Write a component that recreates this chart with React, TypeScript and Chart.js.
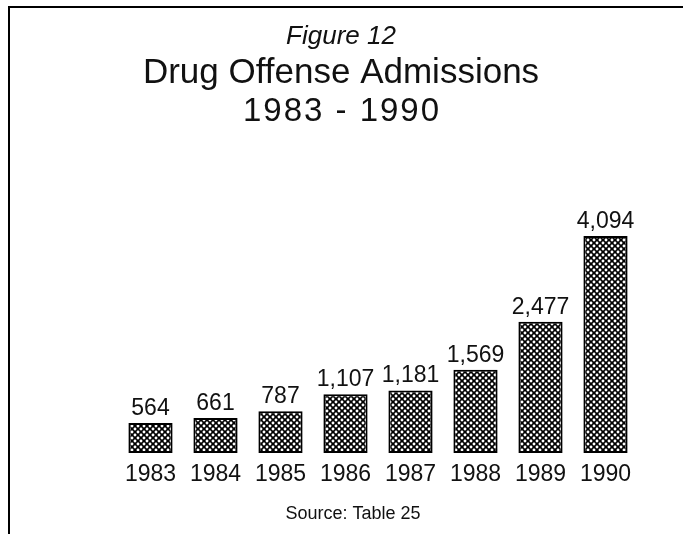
import React, { useEffect, useRef } from "react";
import { Chart, registerables } from "chart.js";

Chart.register(...registerables);

const years = ["1983", "1984", "1985", "1986", "1987", "1988", "1989", "1990"];
const admissions = [564, 661, 787, 1107, 1181, 1569, 2477, 4094];
const valueLabels = ["564", "661", "787", "1,107", "1,181", "1,569", "2,477", "4,094"];
const figureLabel = "Figure 12";
const titleText = "Drug Offense Admissions";
const subtitleText = "1983 - 1990";
const sourceText = "Source: Table 25";

const FONT = "'Liberation Sans', Arial, Helvetica, sans-serif";

function makePattern(): CanvasPattern | string {
  const c = document.createElement("canvas");
  c.width = 6;
  c.height = 6;
  const g = c.getContext("2d");
  if (!g) return "#222";
  g.fillStyle = "#000";
  g.fillRect(0, 0, 6, 6);
  g.fillStyle = "#fff";
  const pts = [
    [3, 3],
    [0, 0],
    [6, 0],
    [0, 6],
    [6, 6],
  ];
  for (const [x, y] of pts) {
    g.beginPath();
    g.arc(x, y, 1.45, 0, Math.PI * 2);
    g.fill();
  }
  const p = g.createPattern(c, "repeat");
  return p || "#222";
}

const textPlugin = {
  id: "figureText",
  beforeDraw(chart: any) {
    const ctx = chart.ctx;
    ctx.save();
    ctx.fillStyle = "#fff";
    ctx.fillRect(0, 0, chart.width, chart.height);
    ctx.fillStyle = "#000";
    ctx.fillRect(8, 6, chart.width - 8, 2);
    ctx.fillRect(8, 6, 2, chart.height - 6);
    ctx.restore();
  },
  afterDatasetsDraw(chart: any) {
    const ctx = chart.ctx;
    const xs = chart.scales.x;
    const meta = chart.getDatasetMeta(0);
    ctx.save();
    ctx.fillStyle = "#111";
    ctx.textAlign = "center";
    ctx.textBaseline = "alphabetic";
    const cx = 341;
    ctx.font = `italic 26px ${FONT}`;
    ctx.fillText(figureLabel, cx, 44);
    ctx.font = `300 35px ${FONT}`;
    ctx.fillText(titleText, cx, 83);
    ctx.font = `300 33px ${FONT}`;
    (ctx as any).letterSpacing = "2px";
    ctx.fillText(subtitleText, cx + 1, 121);
    (ctx as any).letterSpacing = "0px";

    ctx.font = `23px ${FONT}`;
    years.forEach((y, i) => {
      const x = xs.getPixelForValue(i);
      ctx.fillText(y, x, 481);
      const bar = meta.data[i];
      ctx.fillText(valueLabels[i], x, bar.y - 8);
    });

    ctx.font = `18px ${FONT}`;
    ctx.fillText(sourceText, 353, 519);
    ctx.restore();
  },
};

export default function App() {
  const ref = useRef<HTMLCanvasElement | null>(null);
  useEffect(() => {
    if (!ref.current) return;
    const pattern = makePattern();
    const chart = new Chart(ref.current, {
      type: "bar",
      data: {
        labels: years,
        datasets: [
          {
            data: admissions,
            backgroundColor: pattern as any,
            borderColor: "#000",
            borderWidth: 2,
            borderSkipped: false,
            categoryPercentage: 1,
            barPercentage: 0.68,
          },
        ],
      },
      options: {
        animation: false,
        responsive: false,
        maintainAspectRatio: false,
        layout: { padding: { left: 118, right: 45, top: 188, bottom: 81 } },
        plugins: {
          legend: { display: false },
          title: { display: false },
          tooltip: { enabled: false },
        },
        scales: {
          x: { display: false },
          y: { display: false, min: 0, max: 5000 },
        },
      },
      plugins: [textPlugin],
    });
    return () => chart.destroy();
  }, []);
  return (
    <div style={{ position: "absolute", left: 0, top: 0, width: 683, height: 534, background: "#fff" }}>
      <canvas ref={ref} width={683} height={534} style={{ display: "block", width: 683, height: 534 }} />
    </div>
  );
}
